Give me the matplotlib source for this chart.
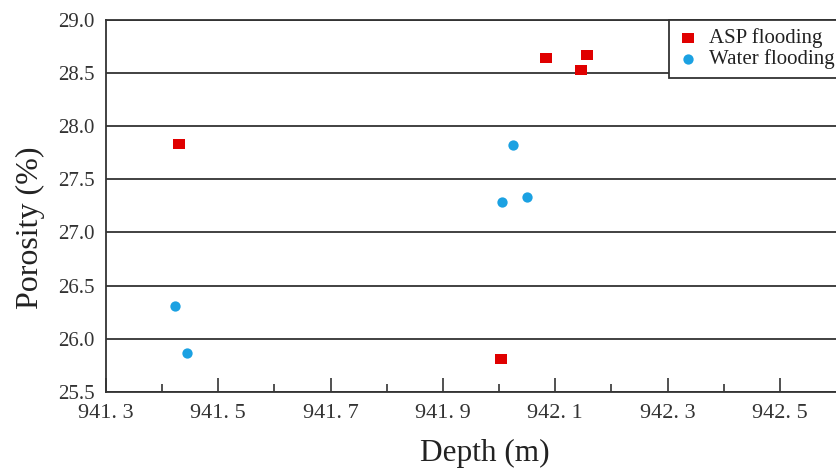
import matplotlib
matplotlib.use("Agg")
import matplotlib.pyplot as plt
from matplotlib.path import Path
from matplotlib.ticker import FixedLocator

plt.rcParams['font.family'] = ['Liberation Serif', 'DejaVu Serif']

asp_depth = [941.43, 942.084, 942.157, 942.146, 942.004]
asp_poro = [27.83, 28.64, 28.67, 28.53, 25.81]
water_depth = [941.422, 941.444, 942.025, 942.006, 942.05]
water_poro = [26.31, 25.86, 27.82, 27.29, 27.33]

xticks = [941.3, 941.5, 941.7, 941.9, 942.1, 942.3, 942.5]
xtick_labels = ["941. 3", "941. 5", "941. 7", "941. 9", "942. 1", "942. 3", "942. 5"]
xminor = [941.4, 941.6, 941.8, 942.0, 942.2, 942.4]
yticks = [25.5, 26.0, 26.5, 27.0, 27.5, 28.0, 28.5, 29.0]

fig = plt.figure(figsize=(8.36, 4.69), dpi=100)
x0, x1 = 106, 836
y0, y1 = 20, 391.7
ax = fig.add_axes([x0/836, 1-y1/469, (x1-x0)/836, (y1-y0)/469])

rect = Path([(-1.33, -1), (1.33, -1), (1.33, 1), (-1.33, 1), (-1.33, -1)],
            [Path.MOVETO, Path.LINETO, Path.LINETO, Path.LINETO, Path.CLOSEPOLY])

ax.scatter(asp_depth, asp_poro, marker=rect, s=80, color='#e00000', linewidths=0,
           label='ASP flooding', zorder=3)
ax.scatter(water_depth, water_poro, marker='o', s=55, color='#1ba1e2', linewidths=0,
           label='Water flooding', zorder=3)

ax.set_xlim(941.3, 942.6)
ax.set_ylim(25.5, 29.0)
ax.xaxis.set_major_locator(FixedLocator(xticks))
ax.set_xticklabels(xtick_labels)
ax.xaxis.set_minor_locator(FixedLocator(xminor))
ax.set_yticks(yticks)
ax.set_yticklabels([f"{v:.1f}" for v in yticks])

ax.grid(axis='y', color='#333333', linewidth=1.3)
ax.set_axisbelow(True)
for s in ['left', 'bottom', 'top']:
    ax.spines[s].set_color('#333333')
    ax.spines[s].set_linewidth(1.3)
ax.spines['right'].set_visible(False)

ax.tick_params(axis='x', which='major', direction='in', length=10, width=1.2,
               color='#333333', labelsize=16, labelcolor='#333333', pad=9)
ax.tick_params(axis='x', which='minor', direction='in', length=6, width=1.2, color='#333333')
ax.tick_params(axis='y', which='major', length=0, labelsize=15, labelcolor='#333333', pad=8)

ax.set_xlabel('Depth (m)', fontsize=22.5, color='#222222')
ax.xaxis.label.set_va('center')
ax.xaxis.set_label_coords((485-x0)/(x1-x0), -(453-y1)/(y1-y0))
ax.set_ylabel('Porosity (%)', fontsize=23, color='#222222')
ax.yaxis.label.set_va('center')
ax.yaxis.set_label_coords(-(x0-30)/(x1-x0), (y1-228)/(y1-y0))

leg = ax.legend(loc='upper left', bbox_to_anchor=((669-x0)/(x1-x0), 1.0),
                borderaxespad=0, fancybox=False, edgecolor='#333333', fontsize=15,
                handletextpad=0.5, borderpad=0.4, labelspacing=0.05, handlelength=1.0,
                framealpha=1)
leg.get_frame().set_linewidth(1.3)
for t in leg.get_texts():
    t.set_color('#222222')

fig.savefig('out.png', dpi=100)
